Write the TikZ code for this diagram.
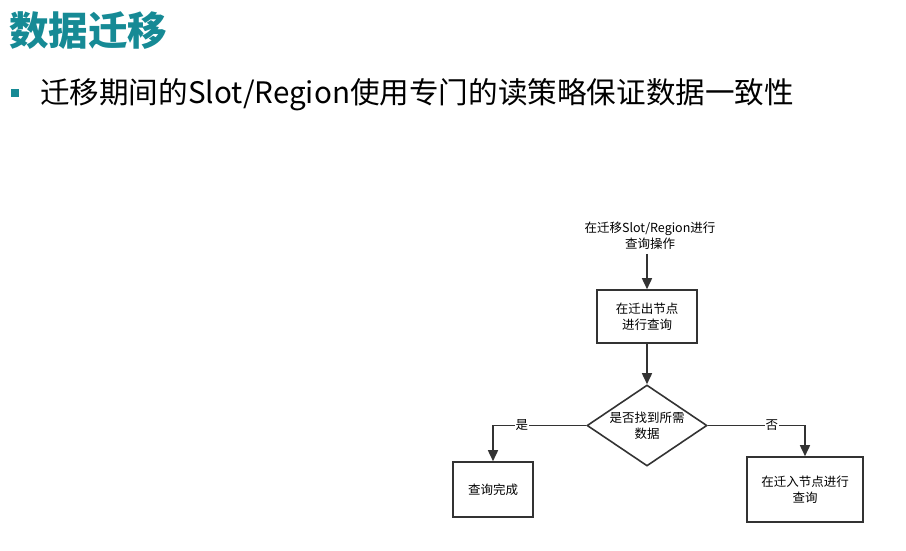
\documentclass[tikz,border=0pt]{standalone}
\usepackage{fontspec}
\setmainfont{Noto Sans CJK SC}
\usetikzlibrary{arrows.meta, positioning, shapes.geometric}
\definecolor{slideteal}{HTML}{168A95}
\definecolor{flowline}{HTML}{333333}

\begin{document}
\begin{tikzpicture}[
  x=1pt, y=-1pt,
  flowbox/.style={rectangle, draw=flowline, line width=1.6pt, align=center, inner sep=0pt, font=\fontsize{12.5}{16}\selectfont},
  decide/.style={diamond, draw=flowline, line width=1.6pt, inner sep=0pt},
  flowtxt/.style={align=center, inner sep=0pt, font=\fontsize{12.5}{16}\selectfont},
  lbl/.style={fill=white, inner sep=1pt, font=\fontsize{12.5}{14}\selectfont},
  flow/.style={-{Triangle[length=11pt, width=10pt]}, draw=flowline, line width=1.6pt}
]
  \useasboundingbox (0,0) rectangle (906,550);

  % Title and bullet
  \node[anchor=west, inner sep=0pt, text=slideteal, font=\fontsize{39.5}{42}\selectfont\bfseries]
    (title) at (9,31) {数据迁移};
  \node[rectangle, fill=slideteal, minimum size=8pt, inner sep=0pt] (dot) at (15,93) {};
  \node[anchor=west, inner sep=0pt, font=\fontsize{29.6}{32}\selectfont]
    (point) at (40,95) {迁移期间的Slot/Region使用专门的读策略保证数据一致性};

  % Flow chart
  \node[flowtxt] (start) at (650,236) {在迁移Slot/Region进行\\查询操作};
  \node[flowbox, minimum width=100pt, minimum height=53pt] (outq) at (647,316.5) {在迁出节点\\进行查询};
  \node[decide, minimum width=120pt, minimum height=81pt,
        label={[flowtxt]center:是否找到所需\\数据}] (found) at (647,425.5) {};
  \node[flowbox, minimum width=80pt, minimum height=55pt] (done) at (493,489.5) {查询完成};
  \node[flowbox, minimum width=116pt, minimum height=65pt] (inq) at (805,489.5) {在迁入节点进行\\查询};

  \draw[flow] (start.south) ++(-3,4) coordinate (s0) -- (s0 |- outq.north);
  \draw[flow] (outq) -- (found);
  \draw[flow] (found.west) -| node[lbl, pos=0.345] {是} (done.north);
  \draw[flow] (found.east) -| node[lbl, pos=0.33] {否} (inq.north);
\end{tikzpicture}
\end{document}
